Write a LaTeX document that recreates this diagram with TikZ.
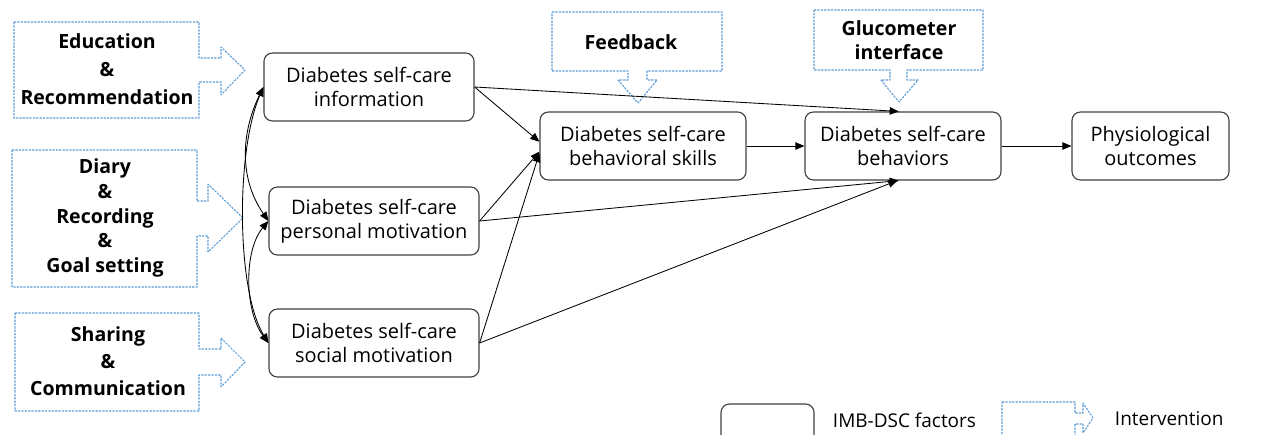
\documentclass[tikz,border=0pt]{standalone}
\usepackage{fontspec}
\setmainfont{Open Sans}
\usetikzlibrary{arrows.meta}

\definecolor{interblue}{RGB}{91,155,213}
\definecolor{boxgray}{RGB}{64,64,64}

\tikzset{
  factor/.style={draw=boxgray, line width=0.8pt, rounded corners=6pt, align=center, inner sep=0pt, font=\fontsize{14.2}{17}\selectfont},
  intervention/.style={draw=interblue, line width=0.75pt, dash pattern=on 1.6pt off 0.8pt},
  interlabel/.style={align=center, font=\bfseries\fontsize{13.9}{17.5}\selectfont},
  link/.style={->, line width=0.6pt, black},
  bothlink/.style={<->, line width=0.6pt, black},
  legendtext/.style={anchor=west, font=\fontsize{13.5}{17}\selectfont},
}

\begin{document}
\begin{tikzpicture}[line join=round,>={Triangle[angle=45:7pt]},x=0.025cm,y=-0.025cm]
  \useasboundingbox (0,0) rectangle (1261,434);
  \clip (0,0) rectangle (1261,434);
  % IMB-DSC factors
  \node[factor, minimum width=5.25cm, minimum height=1.7cm] (info) at (369,87) {Diabetes self-care\\information};
  \node[factor, minimum width=5.25cm, minimum height=1.7cm] (personal) at (374,221) {Diabetes self-care\\personal motivation};
  \node[factor, minimum width=5.25cm, minimum height=1.7cm] (social) at (374,343) {Diabetes self-care\\social motivation};
  \node[factor, minimum width=5.15cm, minimum height=1.7cm] (skills) at (643,146) {Diabetes self-care\\behavioral skills};
  \node[factor, minimum width=4.9cm, minimum height=1.7cm] (behav) at (903,146) {Diabetes self-care\\behaviors};
  \node[factor, minimum width=3.925cm, minimum height=1.7cm] (physio) at (1150.5,146) {Physiological\\outcomes};
  % interventions
  \draw[intervention] (14,22) -- (199,22) -- (199,58) -- (221,58) -- (221,47) -- (245,70) -- (221,95) -- (221,82) -- (199,82) -- (199,118) -- (14,118) -- cycle;
  \draw[intervention] (12,150) -- (197,150) -- (197,201) -- (208,201) -- (208,184) -- (243,218) -- (208,252) -- (208,236) -- (197,236) -- (197,287) -- (12,287) -- cycle;
  \draw[intervention] (15,313) -- (199,313) -- (199,349) -- (221,349) -- (221,338) -- (245,362) -- (221,387) -- (221,375) -- (199,375) -- (199,411) -- (15,411) -- cycle;
  \draw[intervention] (552,12) -- (722,12) -- (722,71) -- (647,71) -- (647,80) -- (657,80) -- (638,103) -- (618,80) -- (628,80) -- (628,71) -- (552,71) -- cycle;
  \draw[intervention] (814,10) -- (983,10) -- (983,70) -- (907,70) -- (907,80) -- (918,80) -- (899,102) -- (881,80) -- (890,80) -- (890,70) -- (814,70) -- cycle;
  \node[interlabel, font=\bfseries\fontsize{13.9}{20}\selectfont] (edu) at (107,69) {Education\\\&\\Recommendation};
  \node[interlabel] (diary) at (105,218) {Diary\\\&\\Recording\\\&\\Goal setting};
  \node[interlabel, font=\bfseries\fontsize{13.9}{19}\selectfont] (share) at (108,361) {Sharing\\\&\\Communication};
  \node[interlabel] (feedback) at (631,42) {Feedback};
  \node[interlabel] (gluco) at (899,40) {Glucometer\\interface};
  % links
  \draw[bothlink] (info.west) .. controls (240,135) and (240,180) .. (personal.west);
  \draw[bothlink] (info.west) .. controls (236,150) and (236,290) .. (social.west);
  \draw[bothlink] (personal.west) .. controls (244,250) and (244,310) .. (social.west);
  \draw[link] (info.east) -- ([yshift=3pt]skills.west);
  \draw[link] (personal.east) -- ([yshift=-4pt]skills.west);
  \draw[link] (social.east) -- ([yshift=-5pt]skills.west);
  \draw[link] (info.east) -- ([xshift=-3pt]behav.north);
  \draw[link] (personal.east) -- ([xshift=-3pt]behav.south);
  \draw[link] (social.east) -- ([xshift=-4pt]behav.south);
  \draw[link] (skills) -- (behav);
  \draw[link] (behav) -- (physio);
  % legend
  \node[factor, minimum width=2.325cm, minimum height=1.15cm] (legfactor) at (767.5,427) {};
  \node[legendtext] (leglabel) at (828,420) {IMB-DSC factors};
  \draw[intervention] (1002,402) -- (1075,402) -- (1075,413) -- (1083,413) -- (1083,403) -- (1093,418) -- (1083,433) -- (1083,424) -- (1075,424) -- (1075,450) -- (1002,450) -- cycle;
  \node[legendtext] (legint) at (1110,419) {Intervention};
\end{tikzpicture}
\end{document}
